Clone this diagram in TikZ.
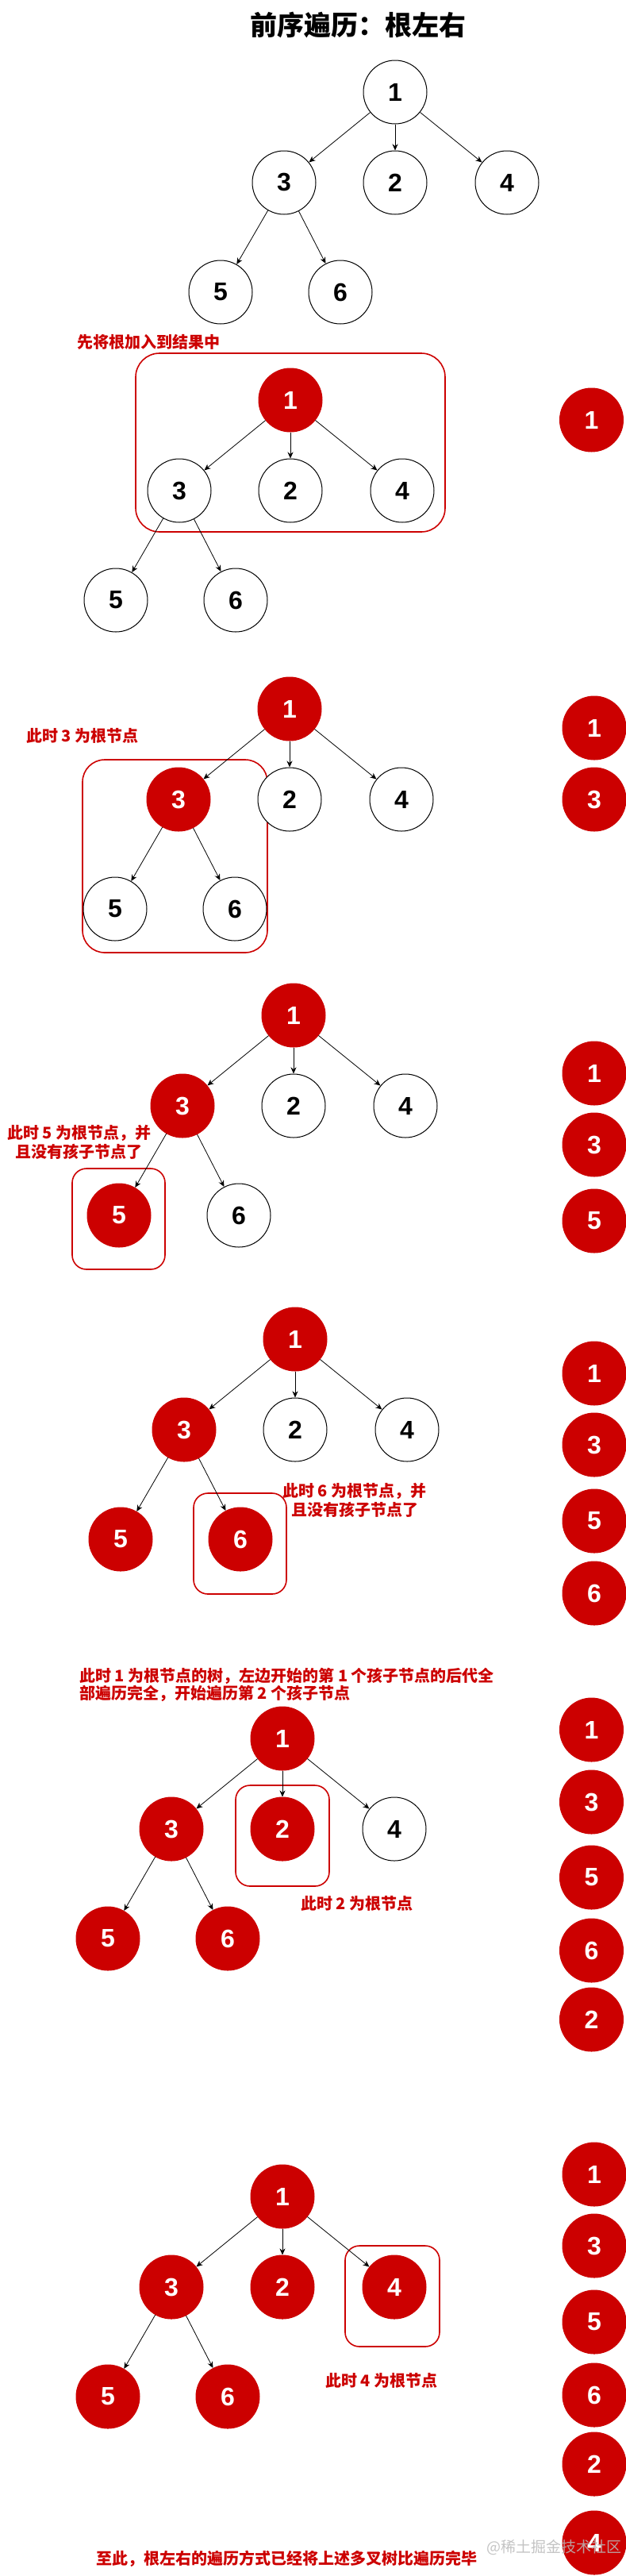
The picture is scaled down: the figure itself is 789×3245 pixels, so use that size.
\documentclass[tikz,border=0pt]{standalone}
\usepackage{fontspec}
\usetikzlibrary{arrows.meta}
\newfontfamily\cjk{Noto Sans CJK SC}
\newfontfamily\numfont{Liberation Sans}
\definecolor{myred}{HTML}{CC0000}
\tikzset{
  wn/.style={circle, draw=black, line width=1pt, fill=white, minimum size=80pt, inner sep=0pt,
             font=\numfont\bfseries\fontsize{32}{32}\selectfont},
  rn/.style={circle, draw=myred, line width=1pt, fill=myred, text=white, minimum size=80pt, inner sep=0pt,
             font=\numfont\bfseries\fontsize{32}{32}\selectfont},
  edge/.style={-{Stealth[length=8pt,width=7pt,inset=2.5pt]}, line width=0.8pt, black},
  redbox/.style={draw=myred, line width=1.6pt, rounded corners=#1},
  redbox/.default=18pt,
  ann/.style={text=myred, inner sep=0pt, font=\cjk\bfseries\fontsize{20}{24}\selectfont},
}
\newcommand\mytree[9]{%
  \begin{scope}[shift={(#2,#3)}]
    \node[#4] (#1n1) at (0,0) {1};
    \node[#5] (#1n3) at (-140,114) {3};
    \node[#6] (#1n2) at (0,114) {2};
    \node[#7] (#1n4) at (141,114) {4};
    \node[#8] (#1n5) at (-220,252) {5};
    \node[#9] (#1n6) at (-69,252) {6};
  \end{scope}
  \draw[edge] (#1n1) -- (#1n3);
  \draw[edge] (#1n1) -- (#1n2);
  \draw[edge] (#1n1) -- (#1n4);
  \draw[edge] (#1n3) -- (#1n5);
  \draw[edge] (#1n3) -- (#1n6);
}
\begin{document}
\begin{tikzpicture}[x=1pt,y=-1pt]
\path[use as bounding box] (0,0) rectangle (789,3245);

% title
\node[inner sep=0pt, font=\cjk\bfseries\fontsize{34}{34}\selectfont] (title) at (451,32) {前序遍历：根左右};

% highlight boxes
\draw[redbox=30pt] (171,445) rectangle (561,670);
\draw[redbox=28pt] (104,957) rectangle (337,1200);
\draw[redbox] (91,1472) rectangle (208,1599);
\draw[redbox] (244,1881) rectangle (361,2008);
\draw[redbox] (297,2249) rectangle (415,2376);
\draw[redbox] (435,2829) rectangle (554,2956);

% trees
\mytree{t0}{498}{116}{wn}{wn}{wn}{wn}{wn}{wn}
\mytree{ta}{366}{504}{rn}{wn}{wn}{wn}{wn}{wn}
\mytree{tb}{365}{893}{rn}{rn}{wn}{wn}{wn}{wn}
\mytree{tc}{370}{1279}{rn}{rn}{wn}{wn}{rn}{wn}
\mytree{td}{372}{1687}{rn}{rn}{wn}{wn}{rn}{rn}
\mytree{te}{356}{2190}{rn}{rn}{rn}{wn}{rn}{rn}
\mytree{tf}{356}{2767}{rn}{rn}{rn}{rn}{rn}{rn}

% annotations
\node[ann, anchor=west] (annA) at (97,431) {先将根加入到结果中};
\node[ann, anchor=west] (annB) at (33,927) {此时 3 为根节点};
\node[ann, align=center] (annC) at (100,1439) {此时 5 为根节点，并\\且没有孩子节点了};
\node[ann, align=center] (annD) at (447,1890) {此时 6 为根节点，并\\且没有孩子节点了};
\node[ann, align=left, anchor=west, font=\cjk\bfseries\fontsize{20}{22}\selectfont] (annE) at (100,2122)
  {此时 1 为根节点的树，左边开始的第 1 个孩子节点的后代全\\部遍历完全，开始遍历第 2 个孩子节点};
\node[ann] (annF) at (450,2398) {此时 2 为根节点};
\node[ann] (annG) at (481,2999) {此时 4 为根节点};
\node[ann] (annH) at (361,3223) {至此，根左右的遍历方式已经将上述多叉树比遍历完毕};

% result column
\node[rn] (ra1) at (745.5,529) {1};

\node[rn] (rb1) at (749,917) {1};
\node[rn] (rb3) at (749,1007) {3};

\node[rn] (rc1) at (749,1352) {1};
\node[rn] (rc3) at (749,1442) {3};
\node[rn] (rc5) at (749,1538) {5};

\node[rn] (rd1) at (749,1730) {1};
\node[rn] (rd3) at (749,1820) {3};
\node[rn] (rd5) at (749,1916) {5};
\node[rn] (rd6) at (749,2007) {6};

\node[rn] (re1) at (745.5,2179) {1};
\node[rn] (re3) at (745.5,2270) {3};
\node[rn] (re5) at (745.5,2365) {5};
\node[rn] (re6) at (745.5,2457) {6};
\node[rn] (re2) at (745.5,2544) {2};

\node[rn] (rf1) at (749,2739) {1};
\node[rn] (rf3) at (749,2829) {3};
\node[rn] (rf5) at (749,2925) {5};
\node[rn] (rf6) at (749,3017) {6};
\node[rn] (rf2) at (749,3104) {2};
\node[rn] (rf4) at (749,3203) {4};

% watermark
\node[inner sep=0pt, anchor=west, text=gray!55, opacity=0.85, font=\cjk\fontsize{19}{19}\selectfont] (wm) at (613,3209) {@稀土掘金技术社区};
\end{tikzpicture}
\end{document}
